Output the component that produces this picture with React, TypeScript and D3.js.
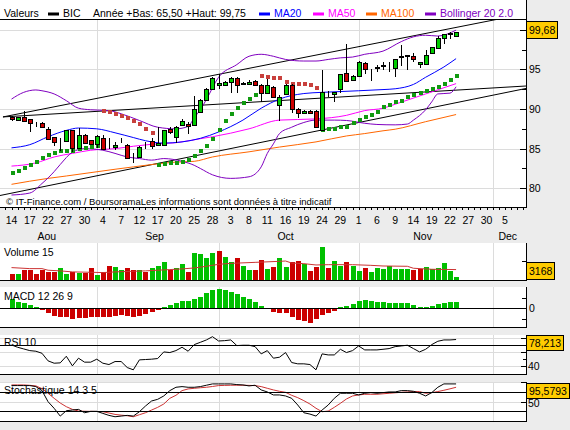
import * as d3 from 'd3'

const SANS = '"Liberation Sans", Arial, Helvetica, sans-serif'
const GREEN = '#00cc00'
const RED = '#cc0000'
const GRID = '#dcdcdc'

// trading days, index 0 = 14 Aug 2007 ... 73 = 23 Nov 2007
const dayLabels = ['14', '17', '22', '27', '30', '4', '7', '12', '17', '20', '25', '28', '3', '8', '11', '16', '19', '24', '29', '1', '6', '9', '14', '19', '22', '27', '30', '5']
const monthNames = ['Aou', 'Sep', 'Oct', 'Nov', 'Dec']
const monthFirstDay = [14, 34, 57, 79]

const opens = [88.96, 88.63, 89.0, 88.75, 88.25, 88.25, 87.5, 86.46, 86.17, 85.96,
  87.29, 85.08, 86.75, 86.04, 85.63, 86.38, 85.0, 85.17, 85.75, 85.5,
  83.42, 83.96, 85.21, 85.96, 85.5, 85.5, 87.5, 86.5, 88.0, 88.13,
  87.92, 89.58, 91.13, 92.5, 93.04, 93.0, 93.46, 93.96, 93.13, 93.13,
  93.5, 93.0, 92.0, 92.79, 90.5, 91.88, 93.0, 90.0, 89.5, 89.79,
  89.79, 87.38, 92.1, 91.88, 92.5, 94.58, 93.67, 94.17, 95.83, 95.0,
  95.2, 95.4, 95.8, 95.13, 96.6, 96.75, 96.68, 95.67, 95.63, 97.02,
  97.65, 98.9, 99.4, 99.25]
const highs = [89.1, 89.0, 89.8, 88.8, 88.33, 88.4, 87.71, 86.5, 86.3, 87.35,
  87.35, 87.63, 86.8, 86.1, 86.67, 86.67, 86.4, 85.83, 86.38, 85.6,
  84.46, 85.3, 85.9, 86.38, 87.71, 87.35, 87.71, 87.8, 88.75, 88.33,
  91.67, 91.2, 92.6, 94.0, 94.38, 93.5, 94.0, 94.0, 93.4, 93.6,
  93.6, 93.13, 93.75, 92.9, 91.79, 93.1, 93.1, 90.1, 89.9, 89.85,
  89.85, 94.88, 92.3, 92.2, 94.4, 98.25, 94.3, 96.0, 95.9, 95.1,
  95.55, 95.97, 95.97, 96.3, 98.07, 96.8, 97.0, 95.9, 97.5, 97.8,
  99.2, 99.45, 99.65, 99.75]
const lows = [88.5, 88.55, 88.33, 87.08, 87.7, 87.63, 86.17, 85.29, 84.71, 85.9,
  84.58, 85.0, 85.7, 85.6, 85.08, 85.0, 84.9, 84.88, 85.67, 83.8,
  83.13, 83.9, 85.0, 85.0, 85.5, 85.45, 86.88, 85.71, 87.92, 86.88,
  87.83, 89.5, 91.0, 92.4, 92.5, 92.9, 92.08, 91.96, 93.0, 93.0,
  93.0, 90.92, 91.88, 91.46, 88.54, 91.8, 89.46, 88.88, 89.4, 89.4,
  87.58, 87.29, 91.54, 90.83, 92.08, 93.5, 93.6, 94.1, 94.38, 93.57,
  94.7, 94.92, 94.62, 94.08, 95.42, 94.92, 95.97, 95.2, 95.55, 97.0,
  97.6, 98.2, 98.8, 99.2]
const closes = [88.8, 88.96, 88.46, 88.25, 88.2, 87.71, 86.25, 85.83, 86.25, 87.29,
  85.08, 86.67, 85.75, 85.63, 86.54, 85.0, 84.95, 85.5, 85.7, 83.88,
  83.4, 85.21, 85.2, 85.29, 85.75, 87.29, 87.08, 87.71, 88.54, 87.83,
  90.0, 91.13, 92.5, 93.96, 93.33, 93.42, 93.96, 93.0, 93.3, 93.42,
  93.08, 92.0, 93.0, 91.54, 91.54, 93.0, 90.0, 89.5, 89.79, 89.5,
  87.71, 92.17, 92.2, 92.17, 94.38, 93.54, 94.17, 95.96, 95.0, 95.04,
  95.25, 95.5, 95.85, 96.26, 96.7, 96.7, 96.26, 95.88, 96.8, 97.77,
  98.9, 99.4, 99.6, 99.68]

// moving averages and Bollinger bands, read as [day index, price]
const ma20 = [[0, 85.1], [3, 85.5], [6, 86.5], [9, 87.3], [11, 87.6], [14, 87.5], [17, 87.0], [20, 86.4], [22, 86.0], [25, 85.7], [28, 85.85], [31, 86.3], [34, 87.1], [38, 88.6], [41, 90.1], [44, 91.25], [48, 91.95], [51, 92.1], [54, 92.2], [57, 92.3], [61, 92.45], [63, 92.55], [66, 93.1], [68, 94.0], [71, 95.3], [73, 96.35]]
const ma50 = [[0, 82.8], [4, 83.2], [7, 83.95], [10, 84.4], [13, 84.8], [17, 85.0], [20, 85.3], [23, 85.55], [27, 85.75], [31, 86.25], [33, 86.5], [39, 87.5], [44, 88.6], [50, 88.75], [55, 89.2], [58, 89.8], [61, 90.1], [63, 90.6], [68, 91.9], [73, 93.2]]
const ma100 = [[0, 80.5], [6, 81.25], [9, 81.55], [17, 82.4], [20, 82.7], [27, 83.3], [30, 83.4], [33, 83.95], [39, 84.6], [44, 85.2], [50, 85.85], [55, 86.6], [58, 86.9], [61, 87.25], [63, 87.45], [68, 88.4], [73, 89.3]]
const bbUp = [[0, 91.25], [2, 92.1], [4, 92.4], [5, 92.3], [7, 91.9], [9, 91.05], [11, 90.1], [13, 89.9], [16, 89.8], [18, 89.4], [21, 88.55], [24, 87.7], [27, 87.5], [29, 87.8], [30, 88.9], [31, 89.9], [32, 91.2], [34, 94.0], [37, 95.6], [39, 96.65], [41, 96.9], [43, 96.65], [45, 96.25], [48, 96.05], [50, 96.05], [52, 96.25], [54, 96.45], [56, 96.55], [58, 96.9], [61, 97.3], [64, 98.5], [66, 99.1], [68, 99.3], [70, 99.2], [73, 99.95]]
const bbLow = [[0, 79.15], [3, 79.4], [5, 80.6], [7, 82.1], [8, 83.0], [10, 84.55], [12, 85.0], [15, 84.8], [17, 84.4], [19, 83.95], [21, 83.75], [23, 83.55], [25, 83.75], [28, 83.4], [30, 82.9], [31, 82.5], [33, 81.7], [36, 81.25], [39, 81.45], [41, 82.7], [42, 84.4], [43, 85.6], [44, 86.9], [46, 87.7], [48, 88.3], [50, 88.6], [53, 88.6], [55, 88.55], [58, 88.2], [60, 88.05], [63, 88.0], [65, 88.1], [66, 88.6], [68, 89.9], [69, 90.9], [70, 91.9], [72, 92.0], [73, 92.8]]

// parabolic SAR: value per day, 'g' = below price, 'r' = above
const sar = [81.88, 82.2, 82.54, 82.88, 83.33, 83.83, 84.17, 84.46, 84.75, 84.75,
  84.75, 84.96, 85.08, 85.17, 85.38, 89.79, 89.67, 89.38, 89.08, 88.83,
  88.54, 88.13, 87.5, 86.96, 82.92, 83.0, 83.13, 83.25, 83.33, 83.6,
  84.04, 84.67, 85.29, 86.25, 87.38, 88.46, 89.38, 90.13, 90.71, 91.25,
  91.79, 94.17, 94.04, 93.96, 93.88, 93.46, 93.21, 93.13, 93.13, 93.04,
  92.7, 87.3, 87.5, 87.5, 87.71, 87.79, 88.21, 88.63, 89.0, 89.3,
  89.6, 90.21, 90.5, 90.84, 91.05, 91.47, 91.72, 91.97, 92.27, 92.48,
  92.73, 93.15, 93.66, 94.16]
const sarSide = 'ggggggggggggggg' + 'rrrrrrrrr' + 'ggggggggggggggggg' + 'rrrrrrrrrr' + 'ggggggggggggggggggggggg'

// trend lines [day0, price0, day1, price1]
const trendLines = [[-1.4, 89.0, 84.48, 92.9], [-1.4, 89.0, 84.48, 102.03], [-1.89, 79.09, 84.48, 92.59]]

const volumes = [8100, 7200, 12700, 12700, 8100, 12700, 9900, 10400, 15400, 7200,
  10800, 9000, 9000, 15400, 6300, 9900, 18100, 16700, 13600, 15400,
  12700, 13600, 9900, 15400, 19000, 23500, 13600, 15400, 20800, 9900,
  35700, 34400, 28900, 35700, 38400, 30700, 23500, 28900, 18100, 12700,
  12700, 26200, 14000, 16700, 28900, 16700, 23500, 24900, 21700, 11300,
  16700, 45200, 15400, 24900, 18100, 23500, 18100, 11300, 15400, 9900,
  15400, 14000, 18100, 14000, 14000, 14000, 12700, 14000, 16700, 14000,
  15400, 22100, 11300, 3168]
const volSide = 'rgrrrrrrgg' + 'rgrrgrrggr' + 'rgrgggrggr' + 'ggggrggrgg' + 'rrgrggrrgr' + 'rgrggrggrg' + 'ggggggrrgg' + 'gggg'
const volAvg = [[0, 16300], [3, 14900], [5, 14900], [6, 12700], [8, 11800], [10, 10400], [13, 9900], [15, 9500], [17, 10400], [20, 11300], [22, 11800], [24, 12700], [26, 13600], [28, 14500], [30, 15800], [32, 18100], [34, 20800], [36, 22100], [40, 23500], [44, 24900], [45, 25300], [46, 22600], [48, 21700], [50, 19900], [52, 20300], [56, 20300], [59, 19400], [61, 18500], [65, 18100], [66, 15400], [69, 14000], [73, 13600]]

const macd = [0.44, 0.32, 0.28, 0.16, 0.06, -0.06, -0.24, -0.37, -0.44, -0.40,
  -0.50, -0.49, -0.47, -0.44, -0.40, -0.40, -0.44, -0.37, -0.31, -0.37,
  -0.44, -0.37, -0.28, -0.16, -0.10, 0.08, 0.18, 0.24, 0.36, 0.36,
  0.44, 0.57, 0.73, 0.89, 0.92, 0.89, 0.81, 0.70, 0.57, 0.47,
  0.32, 0.13, 0.01, -0.16, -0.24, -0.21, -0.40, -0.57, -0.62, -0.73,
  -0.50, -0.31, -0.21, -0.13, 0.06, 0.13, 0.23, 0.36, 0.40, 0.36,
  0.31, 0.31, 0.26, 0.26, 0.26, 0.26, 0.16, 0.06, 0.06, 0.11,
  0.23, 0.28, 0.32, 0.32]

const rsi = [70.4, 67.1, 64.7, 62.3, 61.4, 58.5, 47.6, 44.2, 44.7, 54.2,
  40.4, 51.4, 45.7, 45.7, 50.0, 44.2, 42.3, 46.6, 46.6, 38.0,
  34.7, 49.0, 49.5, 50.0, 50.9, 60.4, 59.5, 62.3, 67.1, 61.4,
  70.9, 74.2, 77.6, 82.3, 76.1, 76.6, 77.6, 69.5, 70.0, 70.0,
  68.0, 57.6, 62.3, 51.4, 52.8, 59.5, 45.2, 43.3, 43.3, 42.3,
  34.7, 57.6, 56.1, 56.1, 64.2, 59.5, 62.3, 69.0, 63.3, 63.3,
  63.3, 64.2, 65.2, 68.0, 69.0, 70.0, 65.2, 60.4, 64.2, 70.9,
  75.7, 77.6, 77.6, 78.213]

const stochK = [91.3, 91.3, 91.3, 91.3, 88.7, 78.4, 50.0, 33.0, 13.1, 26.9,
  28.6, 30.3, 21.7, 25.2, 25.2, 20.0, 14.9, 11.4, 13.1, 14.9,
  13.1, 24.3, 38.9, 51.8, 56.1, 64.7, 78.4, 87.0, 88.7, 87.0,
  87.0, 88.7, 92.2, 95.6, 95.6, 95.6, 95.6, 93.9, 93.0, 90.5,
  92.2, 80.2, 75.0, 67.3, 67.3, 64.7, 58.7, 41.5, 21.7, 18.3,
  13.1, 28.6, 41.5, 58.7, 71.6, 71.6, 71.6, 67.3, 71.6, 73.3,
  71.6, 73.3, 75.0, 75.0, 78.4, 78.4, 76.7, 71.6, 64.7, 73.3,
  87.0, 95.6, 95.6, 95.5793]
const stochD = [93.0, 93.0, 93.0, 92.0, 90.5, 83.6, 71.6, 58.7, 46.6, 37.2,
  30.3, 26.0, 25.5, 25.2, 25.0, 24.3, 21.0, 17.4, 15.5, 14.0,
  11.4, 16.6, 21.7, 28.6, 35.5, 44.1, 58.7, 66.4, 78.4, 82.7,
  84.4, 85.8, 87.0, 89.0, 91.3, 91.8, 92.2, 92.2, 92.2, 91.8,
  91.3, 88.7, 84.4, 80.2, 76.7, 74.1, 66.4, 60.4, 52.7, 44.1,
  33.1, 24.3, 26.0, 35.5, 45.8, 57.0, 64.7, 67.3, 69.0, 69.0,
  69.0, 70.3, 71.6, 72.8, 74.1, 75.0, 75.9, 75.9, 71.6, 73.3,
  76.0, 79.3, 83.0, 87.0]

const priceTicks = [80, 85, 90, 95, 100]
const priceMinor = [82.5, 87.5, 92.5, 97.5]

const R = 526

function textW(s: string) {
  return s.split('').reduce((a, c) => a + (c === ',' ? 2.92 : 5.84), 0)
}

function ValueBox({ top, h, text }: { top: number; h: number; text: string }) {
  return (
    <g>
      <rect x={R + 0.5} y={top} width={textW(text) + 5} height={h} fill="#ffcc00" stroke="#000" shapeRendering="crispEdges" />
      <text x={R + 3} y={top + h / 2 + 4}>{text}</text>
    </g>
  )
}

export default function App() {
  const x = d3.scaleLinear().domain([-1.89, 84.48]).range([0, R])
  const px = (i: number) => Math.round(x(i)) + 0.5

  const yP = d3.scaleLinear().domain([77.64, 101.35]).range([207, 19])
  const yV = d3.scaleLinear().domain([0, 50000]).range([279.5, 243])
  const yM = d3.scaleLinear().domain([-0.908, 1.034]).range([327, 287])
  const yR = d3.scaleLinear().domain([28.71, 84.71]).range([374, 335])
  const yS = d3.scaleLinear().domain([0, 100]).range([421.2, 382.2])

  const pairLine = (ys: d3.ScaleLinear<number, number>) =>
    d3.line<number[]>().x(d => x(d[0])).y(d => ys(d[1])).curve(d3.curveMonotoneX)
  const dayLine = (ys: d3.ScaleLinear<number, number>) =>
    d3.line<number>().x((_, i) => x(i)).y(d => ys(d))

  const hy = (v: number) => Math.round(v) + 0.5
  const panels = [
    { top: 243, bottom: 280 },
    { top: 287, bottom: 327 },
    { top: 335, bottom: 374 },
    { top: 382, bottom: 421 },
  ]
  const bounds = [-1.89, 13.5, 33.5, 56.5, 78.5, 84.48]
  const allDays = d3.range(-1, 85)

  return (
    <svg width={570} height={430} style={{ position: 'absolute', left: 0, top: 0, background: '#ececec' }}
      fontFamily={SANS} fontSize={10.5}>
      <defs>
        <clipPath id="mainClip"><rect x={0} y={19} width={R} height={188} /></clipPath>
      </defs>

      {/* main panel */}
      <rect x={0} y={0} width={R} height={207} fill="#fff" />
      <g stroke={GRID} shapeRendering="crispEdges">
        {monthFirstDay.map(d => <line key={d} x1={px(d)} x2={px(d)} y1={19} y2={207} />)}
        {priceTicks.map(p => <line key={p} x1={0} x2={R} y1={hy(yP(p))} y2={hy(yP(p))} />)}
      </g>

      <text x={4} y={16.5}>Valeurs</text>
      <rect x={48} y={12.5} width={11} height={3} fill="#000" />
      <text x={63} y={16.5}>BIC</text>
      <text x={93} y={16.5}>Année +Bas: 65,50 +Haut: 99,75</text>
      <rect x={259} y={12.5} width={11} height={3} fill="#0000ff" />
      <text x={274} y={16.5} fill="#0000ff">MA20</text>
      <rect x={313} y={12.5} width={11} height={3} fill="#ff00ff" />
      <text x={328} y={16.5} fill="#ff00ff">MA50</text>
      <rect x={366} y={12.5} width={11} height={3} fill="#ff6600" />
      <text x={381} y={16.5} fill="#ff6600">MA100</text>
      <rect x={425} y={12.5} width={11} height={3} fill="#8000c0" />
      <text x={440} y={16.5} fill="#8000c0">Bollinger 20 2.0</text>

      <text x={6} y={204.5} fontSize={9.5}>© IT-Finance.com / BoursoramaLes informations sont données à titre indicatif</text>

      <g clipPath="url(#mainClip)" fill="none">
        {trendLines.map((t, i) => (
          <line key={i} x1={x(t[0])} y1={yP(t[1])} x2={x(t[2])} y2={yP(t[3])} stroke="#000" />
        ))}
        <path d={pairLine(yP)(ma100) ?? ''} stroke="#ff6600" />
        <path d={pairLine(yP)(ma50) ?? ''} stroke="#ff00ff" />
        <path d={pairLine(yP)(ma20) ?? ''} stroke="#0000ff" />
        <path d={pairLine(yP)(bbUp) ?? ''} stroke="#8000c0" />
        <path d={pairLine(yP)(bbLow) ?? ''} stroke="#8000c0" />
        {sar.map((v, i) => (
          <rect key={i} x={Math.round(x(i)) - 1} y={Math.round(yP(v)) - 2} width={4} height={4}
            fill={sarSide[i] === 'g' ? '#109a10' : '#c8403c'} shapeRendering="crispEdges" />
        ))}
        {opens.map((o, i) => {
          const c = closes[i]
          const cx = px(i)
          const top = hy(yP(Math.max(o, c)))
          const bot = hy(yP(Math.min(o, c)))
          return (
            <g key={i} shapeRendering="crispEdges">
              <line x1={cx} x2={cx} y1={Math.round(yP(highs[i]))} y2={Math.round(yP(lows[i]))} stroke="#000" />
              <rect x={cx - 2} y={top} width={4} height={bot - top} fill={c >= o ? GREEN : RED} stroke="#000" />
            </g>
          )
        })}
      </g>

      {/* right axis of price */}
      <g stroke="#000" shapeRendering="crispEdges">
        <line x1={R + 0.5} x2={R + 0.5} y1={0} y2={207} />
        <line x1={0} x2={R + 1} y1={19.5} y2={19.5} />
        <line x1={0} x2={R + 1} y1={207.5} y2={207.5} />
        {priceTicks.map(p => <line key={p} x1={R - 6} x2={R} y1={hy(yP(p))} y2={hy(yP(p))} />)}
        {priceMinor.map(p => <line key={p} x1={R - 4} x2={R} y1={hy(yP(p))} y2={hy(yP(p))} />)}
        {allDays.map(d => <line key={d} x1={px(d)} x2={px(d)} y1={208} y2={210} />)}
      </g>
      {priceTicks.slice(0, 4).map(p => <text key={p} x={R + 3} y={yP(p) + 4}>{p}</text>)}
      <ValueBox top={yP(closes[73]) - 10.5} h={17} text="99,68" />

      {/* date axis */}
      {dayLabels.map((l, k) => <text key={k} x={x(k * 3)} y={223.5} textAnchor="middle">{l}</text>)}
      {monthNames.map((m, k) => (
        <text key={m} x={x((bounds[k] + bounds[k + 1]) / 2)} y={240} textAnchor="middle">{m}</text>
      ))}

      {/* indicator panels */}
      {panels.map((p, k) => (
        <g key={k}>
          <rect x={0} y={p.top} width={R} height={p.bottom - p.top} fill="#fff" />
          <g stroke={GRID} shapeRendering="crispEdges">
            {monthFirstDay.map(d => <line key={d} x1={px(d)} x2={px(d)} y1={p.top} y2={p.bottom} />)}
          </g>
        </g>
      ))}

      {/* RSI and stochastic grid */}
      <g stroke={GRID} shapeRendering="crispEdges">
        {[80, 60, 40].map(v => <line key={v} x1={0} x2={R} y1={hy(yR(v))} y2={hy(yR(v))} />)}
        {[100, 50].map(v => <line key={v} x1={0} x2={R} y1={hy(yS(v))} y2={hy(yS(v))} />)}
      </g>

      {/* volume */}
      {volumes.map((v, i) => (
        <rect key={i} x={Math.round(x(i)) - 2} y={yV(v)} width={5} height={yV(0) - yV(v)}
          fill={volSide[i] === 'g' ? '#00c000' : RED} shapeRendering="crispEdges" />
      ))}
      <path d={d3.line<number[]>().x(d => x(d[0])).y(d => yV(d[1]))(volAvg) ?? ''} fill="none" stroke="#cc3333" />
      <text x={4} y={255.5}>Volume 15</text>

      {/* MACD */}
      {macd.map((v, i) => (
        <rect key={i} x={Math.round(x(i)) - 2} y={yM(Math.max(v, 0))} width={5}
          height={Math.abs(yM(v) - yM(0))} fill={v >= 0 ? '#00c000' : RED} shapeRendering="crispEdges" />
      ))}
      <text x={4} y={300}>MACD 12 26 9</text>

      {/* RSI */}
      <path d={dayLine(yR)(rsi) ?? ''} fill="none" stroke="#000" />
      <text x={4} y={346}>RSI 10</text>

      {/* stochastic */}
      <path d={dayLine(yS)(stochD) ?? ''} fill="none" stroke="#cc3333" />
      <path d={dayLine(yS)(stochK) ?? ''} fill="none" stroke="#000" />
      <text x={4} y={394}>Stochastique 14 3 5</text>

      <g stroke="#000" shapeRendering="crispEdges">
        {panels.map((p, k) => (
          <g key={k}>
            <line x1={R + 0.5} x2={R + 0.5} y1={p.top} y2={p.bottom + 1} />
            <line x1={0} x2={R + 1} y1={p.bottom + 0.5} y2={p.bottom + 0.5} />
          </g>
        ))}
        <line x1={0} x2={R} y1={hy(yM(0))} y2={hy(yM(0))} />
        <line x1={0} x2={R} y1={hy(yR(70))} y2={hy(yR(70))} />
        {[75, 25].map(v => <line key={v} x1={0} x2={R} y1={hy(yS(v))} y2={hy(yS(v))} />)}
        <line x1={R - 4} x2={R} y1={hy(yV(25000))} y2={hy(yV(25000))} />
        {[0.5, -0.5].map(v => <line key={v} x1={R - 4} x2={R} y1={hy(yM(v))} y2={hy(yM(v))} />)}
        {[80, 60, 40].map(v => <line key={v} x1={R - 5} x2={R} y1={hy(yR(v))} y2={hy(yR(v))} />)}
        <line x1={R - 3} x2={R} y1={hy(yR(50))} y2={hy(yR(50))} />
        {[100, 50].map(v => <line key={v} x1={R - 5} x2={R} y1={hy(yS(v))} y2={hy(yS(v))} />)}
      </g>
      <text x={R + 3} y={yM(0) + 4}>0</text>
      <text x={R + 2} y={yR(40) + 4}>40</text>
      <text x={R + 2} y={yS(50) + 5}>50</text>
      <ValueBox top={262.5} h={17} text="3168" />
      <ValueBox top={335.5} h={15} text="78,213" />
      <ValueBox top={383.5} h={15} text="95,5793" />
    </svg>
  )
}
